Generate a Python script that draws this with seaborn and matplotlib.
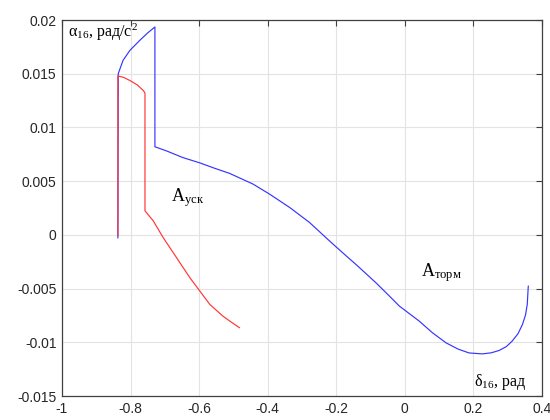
import numpy as np
import pandas as pd
import matplotlib
matplotlib.use("Agg")
import matplotlib.pyplot as plt
import seaborn as sns

# Blue curve (A_torm path)
blue_x = [-0.837, -0.836, -0.822, -0.802, -0.773, -0.750, -0.729, -0.729, -0.694, -0.648,
          -0.598, -0.555, -0.511, -0.443, -0.395, -0.336, -0.278, -0.220, -0.171, -0.141,
          -0.083, -0.045, -0.016, 0.042, 0.080, 0.120, 0.155, 0.187, 0.226, 0.252, 0.275,
          0.296, 0.313, 0.330, 0.343, 0.352, 0.357, 0.360]
blue_y = [-0.0003, 0.0150, 0.01624, 0.01717, 0.01811, 0.01880, 0.01935, 0.0082, 0.0078, 0.0072,
          0.0067, 0.0062, 0.00572, 0.00473, 0.00380, 0.00255, 0.00115, -0.00056, -0.00196, -0.0028,
          -0.0045, -0.0057, -0.00663, -0.00803, -0.0091, -0.01005, -0.01063, -0.01099, -0.01108, -0.01098, -0.01076,
          -0.01040, -0.00989, -0.00920, -0.00834, -0.00745, -0.00647, -0.00476]

# Red curve (A_usk path)
red_x = [-0.837, -0.837, -0.820, -0.802, -0.780, -0.763, -0.758, -0.758, -0.734, -0.705,
         -0.666, -0.627, -0.598, -0.569, -0.531, -0.505, -0.482]
red_y = [-0.0001, 0.0148, 0.01465, 0.01437, 0.01395, 0.01344, 0.0132, 0.00224, 0.00131, -0.00025,
         -0.00212, -0.00399, -0.00523, -0.00647, -0.00756, -0.00815, -0.00865]

x_ticks = [-1, -0.8, -0.6, -0.4, -0.2, 0, 0.2, 0.4]
x_labels = ["-1", "-0.8", "-0.6", "-0.4", "-0.2", "0", "0.2", "0.4"]
y_ticks = [-0.015, -0.01, -0.005, 0, 0.005, 0.01, 0.015, 0.02]
y_labels = ["-0.015", "-0.01", "-0.005", "0", "0.005", "0.01", "0.015", "0.02"]

sns.set_style("white")
plt.rcParams["font.family"] = ["Liberation Sans", "DejaVu Sans"]
plt.rcParams["mathtext.fontset"] = "custom"
plt.rcParams["mathtext.rm"] = "Liberation Serif"
plt.rcParams["mathtext.it"] = "Liberation Serif"

fig = plt.figure(figsize=(5.5, 4.2), dpi=100)
ax = fig.add_axes([62/550, 24/420, 480/550, 376/420])

df_b = pd.DataFrame({"x": blue_x, "y": blue_y})
df_r = pd.DataFrame({"x": red_x, "y": red_y})
sns.lineplot(data=df_b, x="x", y="y", sort=False, estimator=None, color="#3535ff", lw=0.85, ax=ax)
sns.lineplot(data=df_r, x="x", y="y", sort=False, estimator=None, color="#ff3535", lw=0.85, ax=ax)

ax.set_xlim(-1, 0.4)
ax.set_ylim(-0.015, 0.02)
ax.set_xticks(x_ticks)
ax.set_xticklabels(x_labels)
ax.set_yticks(y_ticks)
ax.set_yticklabels(y_labels)
ax.set_xlabel("")
ax.set_ylabel("")
ax.grid(True, color="#e3e3e3", lw=0.8)
ax.set_axisbelow(True)
for s in ax.spines.values():
    s.set_color("#404040")
    s.set_linewidth(0.9)
ax.tick_params(direction="in", length=4, width=0.8, color="#404040", labelsize=10,
               labelcolor="#262626", top=True, right=True, pad=4)

serif = ["Liberation Serif", "DejaVu Serif"]
ax.text(-0.983, 0.0184, r"α$_{\mathrm{16}}$, рад/с$^{\mathrm{2}}$", family=serif, fontsize=11.5, color="black")
ax.text(-0.683, 0.0031, r"A$_{\mathrm{уск}}$", family=serif, fontsize=13, color="black")
ax.text(0.048, -0.0039, r"A$_{\mathrm{торм}}$", family=serif, fontsize=13, color="black")
ax.text(0.202, -0.0141, r"δ$_{\mathrm{16}}$, рад", family=serif, fontsize=11.5, color="black")

fig.savefig("out.png", dpi=100)
